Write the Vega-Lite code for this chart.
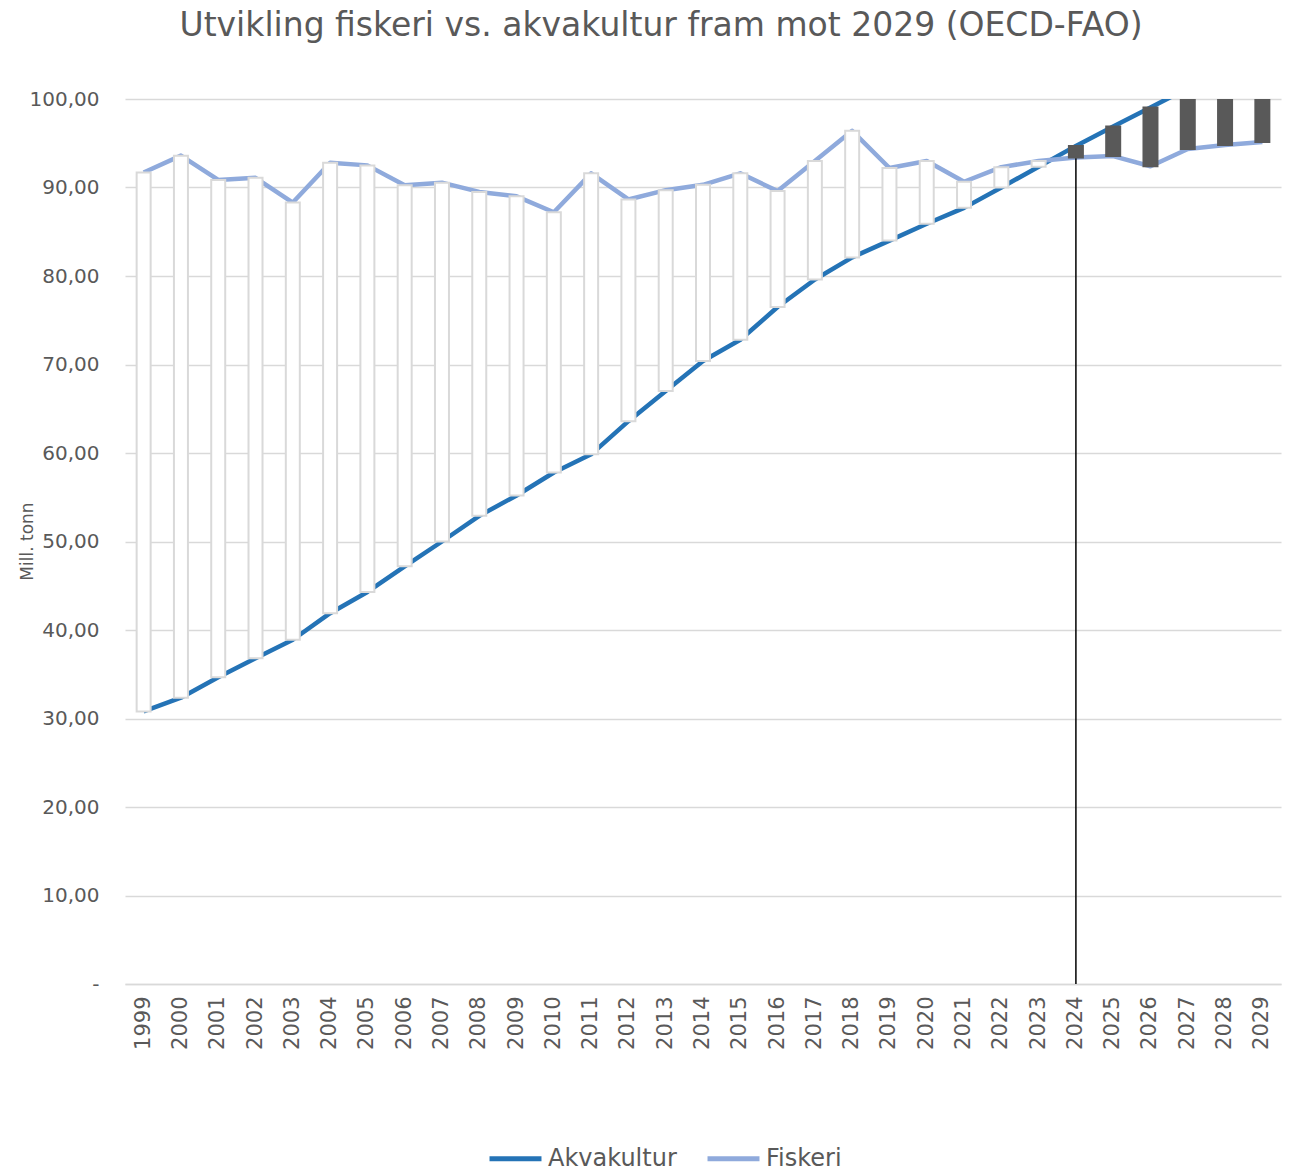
{
  "$schema": "https://vega.github.io/schema/vega-lite/v6.json",
  "autosize": {"type": "none"},
  "width": 1156,
  "height": 885,
  "padding": {"left": 125, "top": 99, "right": 8, "bottom": 190},
  "background": "#ffffff",
  "title": {
    "text": "Utvikling fiskeri vs. akvakultur fram mot 2029 (OECD-FAO)",
    "font": "DejaVu Sans",
    "fontSize": 33,
    "fontWeight": "normal",
    "color": "#595959",
    "anchor": "middle",
    "baseline": "alphabetic",
    "offset": 20,
    "dx": -42
  },
  "config": {
    "view": {"stroke": null},
    "axis": {"labelFont": "DejaVu Sans", "titleFont": "DejaVu Sans", "labelColor": "#595959", "titleColor": "#595959"},
    "legend": {"labelFont": "DejaVu Sans"}
  },
  "data": {
    "values": [
      {"year": 1999, "Akvakultur": 30.8, "Fiskeri": 91.7},
      {"year": 2000, "Akvakultur": 32.35, "Fiskeri": 93.6},
      {"year": 2001, "Akvakultur": 34.65, "Fiskeri": 90.85},
      {"year": 2002, "Akvakultur": 36.8, "Fiskeri": 91.1},
      {"year": 2003, "Akvakultur": 38.9, "Fiskeri": 88.3},
      {"year": 2004, "Akvakultur": 41.9, "Fiskeri": 92.8},
      {"year": 2005, "Akvakultur": 44.3, "Fiskeri": 92.5},
      {"year": 2006, "Akvakultur": 47.2, "Fiskeri": 90.25},
      {"year": 2007, "Akvakultur": 50.0, "Fiskeri": 90.55},
      {"year": 2008, "Akvakultur": 52.9, "Fiskeri": 89.5},
      {"year": 2009, "Akvakultur": 55.2, "Fiskeri": 89.0},
      {"year": 2010, "Akvakultur": 57.8, "Fiskeri": 87.2},
      {"year": 2011, "Akvakultur": 59.85, "Fiskeri": 91.6},
      {"year": 2012, "Akvakultur": 63.6, "Fiskeri": 88.65},
      {"year": 2013, "Akvakultur": 67.0, "Fiskeri": 89.7},
      {"year": 2014, "Akvakultur": 70.4, "Fiskeri": 90.3},
      {"year": 2015, "Akvakultur": 72.8, "Fiskeri": 91.6},
      {"year": 2016, "Akvakultur": 76.5, "Fiskeri": 89.6},
      {"year": 2017, "Akvakultur": 79.6, "Fiskeri": 93.0},
      {"year": 2018, "Akvakultur": 82.1, "Fiskeri": 96.4},
      {"year": 2019, "Akvakultur": 84.0, "Fiskeri": 92.2},
      {"year": 2020, "Akvakultur": 85.9, "Fiskeri": 93.0},
      {"year": 2021, "Akvakultur": 87.7, "Fiskeri": 90.65},
      {"year": 2022, "Akvakultur": 90.0, "Fiskeri": 92.3},
      {"year": 2023, "Akvakultur": 92.35, "Fiskeri": 93.0},
      {"year": 2024, "Akvakultur": 94.7, "Fiskeri": 93.4},
      {"year": 2025, "Akvakultur": 96.9, "Fiskeri": 93.55},
      {"year": 2026, "Akvakultur": 99.05, "Fiskeri": 92.4},
      {"year": 2027, "Akvakultur": 101.2, "Fiskeri": 94.35},
      {"year": 2028, "Akvakultur": 102.9, "Fiskeri": 94.8},
      {"year": 2029, "Akvakultur": 104.5, "Fiskeri": 95.15}
    ]
  },
  "encoding": {
    "x": {
      "field": "year",
      "type": "ordinal",
      "title": null,
      "scale": {"paddingInner": 0, "paddingOuter": 0},
      "axis": {
        "labelAngle": -90,
        "labelAlign": "right",
        "labelBaseline": "middle",
        "labelFontSize": 21,
        "labelPadding": 12,
        "ticks": false,
        "domain": true,
        "domainColor": "#D9D9D9",
        "domainWidth": 1.3,
        "grid": false
      }
    }
  },
  "layer": [
    {
      "transform": [{"fold": ["Akvakultur", "Fiskeri"], "as": ["serie", "verdi"]}],
      "mark": {"type": "line", "strokeWidth": 4.5, "strokeJoin": "round", "clip": true},
      "encoding": {
        "y": {
          "field": "verdi",
          "type": "quantitative",
          "title": "Mill. tonn",
          "scale": {"domain": [0, 100], "nice": false, "zero": true},
          "axis": {
            "values": [0, 10, 20, 30, 40, 50, 60, 70, 80, 90, 100],
            "labelExpr": "datum.value == 0 ? '-\u00a0\u00a0\u00a0' : replace(format(datum.value, '.2f'), '.', ',')",
            "labelFontSize": 20,
            "labelPadding": 26,
            "ticks": false,
            "domain": false,
            "grid": true,
            "gridColor": "#D9D9D9",
            "gridWidth": 1.3,
            "titleFontSize": 17,
            "titleFontWeight": "normal",
            "titleX": -98,
            "titleY": 442,
            "titleAngle": -90,
            "titleAlign": "center",
            "titleBaseline": "middle"
          }
        },
        "color": {
          "field": "serie",
          "type": "nominal",
          "scale": {"domain": ["Akvakultur", "Fiskeri"], "range": ["#2473B6", "#8FAADC"]},
          "legend": {
            "title": null,
            "orient": "none",
            "direction": "horizontal",
            "legendX": 362,
            "legendY": 1031,
            "symbolType": "stroke",
            "symbolSize": 2700,
            "symbolStrokeWidth": 5,
            "labelFontSize": 24,
            "labelColor": "#595959",
            "labelOffset": 4,
            "columnPadding": 20
          }
        }
      }
    },
    {
      "transform": [{"filter": "datum.year == 2024"}],
      "mark": {"type": "rule", "color": "#000000", "strokeWidth": 1.5, "clip": true},
      "encoding": {
        "y": {"field": "Akvakultur", "type": "quantitative", "title": "Mill. tonn"},
        "y2": {"datum": 0}
      }
    },
    {
      "mark": {"type": "bar", "size": 14, "strokeWidth": 2, "clip": true},
      "encoding": {
        "y": {"field": "Akvakultur", "type": "quantitative", "title": "Mill. tonn"},
        "y2": {"field": "Fiskeri"},
        "fill": {"condition": {"test": "datum.Fiskeri >= datum.Akvakultur", "value": "#FFFFFF"}, "value": "#595959"},
        "stroke": {"condition": {"test": "datum.Fiskeri >= datum.Akvakultur", "value": "#D9D9D9"}, "value": "#595959"}
      }
    }
  ]
}
